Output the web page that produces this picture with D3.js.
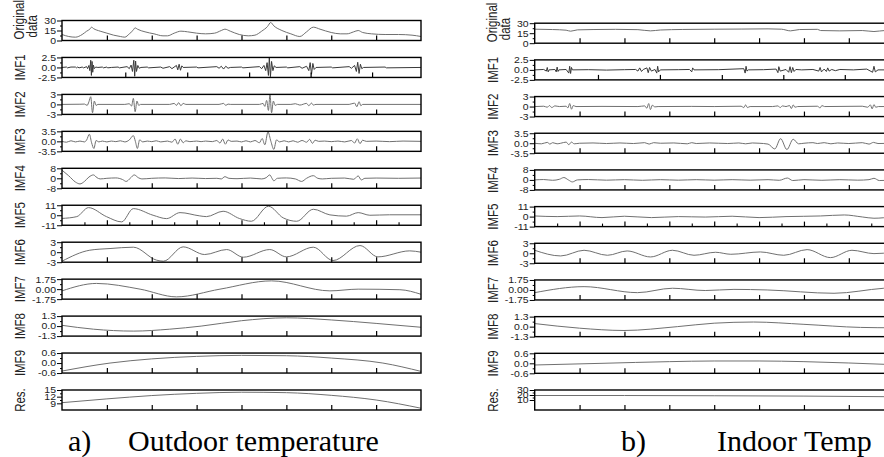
<!DOCTYPE html>
<html><head><meta charset="utf-8">
<script src="https://cdn.jsdelivr.net/npm/d3@7"></script>
<style>body{margin:0;background:#fff;} svg{display:block;}</style>
</head><body><svg id="c" width="884" height="457"></svg>
<script>
// ---------- labels / ticks ----------
const panelTitles = ["Original data","IMF1","IMF2","IMF3","IMF4","IMF5","IMF6","IMF7","IMF8","IMF9","Res."];
const outdoorDomains = [[0,30],[-2.5,2.5],[-3,3],[-3.5,3.5],[-8,8],[-11,11],[-3,3],[-1.75,1.75],[-1.3,1.3],[-0.6,0.6],[6,15]];
const indoorDomains  = [[0,30],[-2.5,2.5],[-3,3],[-3.5,3.5],[-8,8],[-11,11],[-3,3],[-1.75,1.75],[-1.3,1.3],[-0.6,0.6],[-10,30]];
const outdoorTickLabels = [["30","15","0"],["2.5","0.0","-2.5"],["3","0","-3"],["3.5","0.0","-3.5"],["8","0","-8"],["11","0","-11"],["3","0","-3"],["1.75","0.00","-1.75"],["1.3","0.0","-1.3"],["0.6","0.0","-0.6"],["15","12","9"]];
const indoorTickLabels  = [["30","15","0"],["2.5","0.0","-2.5"],["3","0","-3"],["3.5","0.0","-3.5"],["8","0","-8"],["11","0","-11"],["3","0","-3"],["1.75","0.00","-1.75"],["1.3","0.0","-1.3"],["0.6","0.0","-0.6"],["30","20","10"]];
const xTicksMain = [1,2,3,4,5,6,7];
const xTicksIMF1 = [1.41,2.79,4.17,5.54,6.91];
const xTicksIMF5Minor = [0.5,1.5,2.5,3.5,4.5,5.5,6.5,7.5];
const captions = [["a)","Outdoor temperature"],["b)","Indoor Temp"]];

// ---------- outdoor series [t, value] ----------
const outOriginal = [[0,9],[0.15,6],[0.3,5],[0.45,9],[0.55,14],[0.62,17],[0.66,20],[0.7,18],[0.85,14],[1.0,11],[1.15,8],[1.3,6],[1.4,5],[1.5,10],[1.58,15],[1.63,19],[1.68,17],[1.85,13],[2.05,10],[2.25,7],[2.35,7],[2.5,11],[2.65,14],[2.8,13],[3.0,11],[3.2,10],[3.4,11],[3.55,15],[3.63,17],[3.75,14],[3.95,9],[4.15,7],[4.3,8],[4.45,14],[4.58,21],[4.65,27],[4.72,22],[4.9,15],[5.1,10],[5.3,6],[5.45,13],[5.6,20],[5.75,17],[6.0,12],[6.2,10],[6.35,10],[6.5,13],[6.6,15],[6.7,12],[6.9,10],[7.2,9],[7.5,9],[7.8,8],[8.0,6]];
const outIMF1 = [[0,0],[0.1,0.1],[0.12,-0.1],[0.2,0.1],[0.3,0.1],[0.32,-0.1],[0.35,0.1],[0.38,-0.1],[0.45,0.1],[0.48,-0.1],[0.55,0.2],[0.57,-0.3],[0.6,0.5],[0.62,-0.8],[0.64,1.8],[0.655,-2.0],[0.67,1.5],[0.685,-1.2],[0.7,0.6],[0.72,-0.3],[0.75,0.1],[0.8,0],[0.9,0.1],[0.92,-0.1],[1.0,0.1],[1.02,-0.1],[1.1,0],[1.25,0.1],[1.28,-0.1],[1.45,0.2],[1.5,-0.3],[1.54,0.6],[1.57,-1.0],[1.6,1.8],[1.62,-2.2],[1.64,1.6],[1.66,-1.0],[1.69,0.5],[1.72,-0.2],[1.76,0],[1.9,0.1],[1.93,-0.1],[2.2,0.1],[2.25,-0.2],[2.4,0.2],[2.45,-0.3],[2.55,0.5],[2.58,-0.6],[2.61,0.8],[2.64,-0.7],[2.67,0.4],[2.7,0],[3.0,0.1],[3.03,-0.1],[3.45,0.2],[3.5,-0.2],[3.55,0.3],[3.6,-0.4],[3.65,0.3],[3.7,-0.2],[3.75,0],[4.0,0.1],[4.03,-0.1],[4.4,0.2],[4.45,-0.3],[4.5,0.5],[4.54,-0.8],[4.57,1.2],[4.6,-2.0],[4.62,2.5],[4.645,-2.3],[4.67,1.5],[4.7,-0.8],[4.73,0.4],[4.77,0],[5.0,0.1],[5.03,-0.1],[5.3,0.2],[5.35,-0.2],[5.45,0.3],[5.5,-0.8],[5.53,1.2],[5.56,-1.7],[5.59,1.0],[5.62,-0.5],[5.66,0],[6.0,0.1],[6.03,-0.1],[6.4,0.2],[6.45,-0.2],[6.52,0.5],[6.56,-1.0],[6.59,1.3],[6.62,-1.5],[6.65,0.8],[6.68,-0.3],[6.72,0],[7.2,0.1],[7.23,-0.1],[8,0]];
const outIMF2 = [[0,0],[0.4,0.05],[0.5,0.1],[0.56,-0.3],[0.6,0.8],[0.64,2.3],[0.68,-2.5],[0.72,1.0],[0.76,-0.3],[0.8,0],[1.4,0],[1.5,0.2],[1.55,-0.5],[1.59,1.8],[1.63,-2.2],[1.67,1.0],[1.71,-0.3],[1.75,0],[2.4,0],[2.5,0.3],[2.55,-0.3],[2.6,0.5],[2.65,-0.4],[2.7,0.3],[2.76,0],[3.5,0],[3.6,0.3],[3.65,-0.3],[3.7,0.1],[3.75,0],[4.4,0],[4.48,0.3],[4.52,-0.6],[4.56,1.2],[4.6,-1.8],[4.635,3.0],[4.67,-2.5],[4.71,1.0],[4.75,-0.3],[4.8,0],[5.1,0],[5.2,0.2],[5.3,-0.2],[5.45,0.3],[5.5,-0.4],[5.56,0.4],[5.6,-0.2],[5.66,0],[6.4,0],[6.52,0.4],[6.57,-0.7],[6.62,0.8],[6.66,-0.4],[6.7,0],[8,0]];
const outIMF3 = [[0,0],[0.1,-0.3],[0.2,0.2],[0.3,-0.2],[0.4,0.1],[0.5,-0.2],[0.55,0.5],[0.61,2.5],[0.66,-0.5],[0.71,-2.5],[0.76,0.3],[0.82,-0.2],[0.9,0.1],[1.0,-0.2],[1.1,0.1],[1.2,-0.1],[1.3,0.2],[1.4,-0.2],[1.5,0.5],[1.59,2.0],[1.635,0],[1.68,-2.5],[1.73,0.5],[1.8,-0.2],[1.9,0.1],[2.0,-0.1],[2.1,0.2],[2.2,-0.2],[2.35,0.1],[2.45,-0.3],[2.52,0.8],[2.58,-1.0],[2.64,0.8],[2.7,-0.5],[2.76,0.2],[2.85,-0.1],[3.0,0.1],[3.1,-0.1],[3.2,0.1],[3.35,-0.1],[3.45,0.3],[3.52,-0.6],[3.58,0.8],[3.64,-1.0],[3.7,0.5],[3.77,0],[3.9,0.1],[4.0,-0.2],[4.1,0.2],[4.2,-0.2],[4.3,0.3],[4.4,-0.5],[4.46,1.0],[4.52,-1.2],[4.59,3.3],[4.655,0],[4.72,-2.8],[4.78,0.5],[4.85,-0.2],[4.95,0.2],[5.05,-0.2],[5.15,0.2],[5.25,-0.3],[5.35,0.3],[5.45,-0.3],[5.52,0.7],[5.58,-0.7],[5.64,0.4],[5.72,0],[5.85,0.1],[6.0,-0.1],[6.15,0.1],[6.3,-0.2],[6.45,0.3],[6.52,-0.6],[6.58,0.9],[6.64,-0.8],[6.7,0.4],[6.78,0],[7.0,0.1],[7.3,-0.1],[7.6,0.1],[8,0]];
const outIMF4 = [[0,6.5],[0.15,2],[0.3,-3],[0.4,-4.5],[0.5,-2.5],[0.6,1],[0.7,2.7],[0.78,0.5],[0.85,-0.5],[1.0,0],[1.2,0.3],[1.35,-1],[1.43,-2.5],[1.52,0],[1.61,2.7],[1.7,0.5],[1.78,-0.5],[2.0,0],[2.3,0.3],[2.6,-0.2],[2.9,0.2],[3.2,-0.2],[3.45,0],[3.55,-0.5],[3.63,1.3],[3.72,0],[3.9,-0.3],[4.2,0.2],[4.45,-0.5],[4.55,0.5],[4.63,2.7],[4.68,0],[4.72,-2],[4.8,0],[5.0,0.3],[5.2,-0.5],[5.34,-2.5],[5.45,0],[5.6,2.1],[5.7,0],[5.8,-0.5],[6.0,0],[6.3,0.2],[6.5,-0.8],[6.6,1.9],[6.67,-1.3],[6.75,0],[7.0,0.2],[7.5,0],[8,0.2]];
const outIMF5 = [[0,-3.5],[0.33,-1.5],[0.59,8.4],[0.99,-1.5],[1.33,-7.3],[1.59,7.3],[2.03,0],[2.33,-3.7],[2.63,2.9],[3.07,-0.7],[3.22,-1.5],[3.59,4.4],[3.96,-3.7],[4.22,-6.6],[4.6,9.9],[4.93,-2.9],[5.23,-6.6],[5.6,6.6],[5.97,0.4],[6.34,-1],[6.6,2.9],[6.86,0],[7.3,0.5],[8,0.5]];
const outIMF6 = [[0,-2.7],[0.62,0.6],[1.07,1.1],[1.59,1.5],[2.11,-2.4],[2.26,-2.7],[2.7,1.6],[3.18,-0.7],[3.67,0.8],[4.04,-1.5],[4.63,0.8],[5.0,-1.4],[5.6,1.5],[6.04,-2.5],[6.64,2.0],[7.04,-1.4],[7.75,0.4],[8,0]];
const outIMF7 = [[0,-0.3],[0.77,1.0],[1.74,0],[2.55,-1.35],[3.52,0],[4.67,1.45],[5.97,-0.3],[6.6,0],[7.53,-0.1],[8,-0.9]];
const outIMF8 = [[0,0.1],[0.7,-0.4],[1.6,-0.65],[2.4,-0.4],[3.1,0],[4.0,0.7],[5.0,1.08],[6.0,0.8],[7.0,0.35],[8,-0.15]];
const outIMF9 = [[0,-0.48],[1.07,0],[2.0,0.25],[3.0,0.4],[4.0,0.46],[5.0,0.44],[6.0,0.3],[7.15,0],[8,-0.5]];
const outRes  = [[0,9.3],[1,11],[2,12.5],[3,13.5],[4,14],[5,13.8],[6,12.6],[7,10.5],[8,6.8]];

// ---------- indoor series [t, value] ----------
const inOriginal = [[0,21],[0.4,20.5],[0.7,19.5],[0.8,18],[0.95,20],[1.3,20.5],[1.8,20.8],[2.3,20.3],[2.58,18.5],[2.8,19.8],[3.3,20.6],[4.0,21],[4.6,21.2],[5.2,21.5],[5.5,21],[5.7,18.5],[5.9,20.5],[6.3,20.8],[6.37,19],[6.8,18.5],[7.3,19],[7.56,17.5],[7.8,19],[8,19]];
const inIMF1 = [[0,0],[0.2,0.1],[0.26,-0.3],[0.28,0.6],[0.3,-0.5],[0.32,0],[0.45,0.1],[0.48,-0.5],[0.5,0.7],[0.52,-0.4],[0.54,0],[0.7,0.1],[0.76,-0.8],[0.78,0.9],[0.8,-0.9],[0.82,0.6],[0.84,0],[1.2,0.05],[1.6,-0.05],[2.0,0.05],[2.25,0.1],[2.3,-0.3],[2.34,0.5],[2.38,-0.4],[2.42,0.1],[2.5,0.5],[2.53,-0.7],[2.56,0.6],[2.6,-0.3],[2.68,0.1],[2.72,-0.8],[2.74,0.9],[2.76,-0.5],[2.8,0],[3.2,0.05],[3.45,0.1],[3.5,-0.5],[3.52,0.5],[3.55,0],[4.1,0.05],[4.66,0.3],[4.69,-0.8],[4.71,0.9],[4.73,-0.3],[4.76,0],[5.1,0.05],[5.38,0.2],[5.42,-0.7],[5.44,0.8],[5.47,-0.3],[5.6,0.1],[5.66,-0.6],[5.69,0.8],[5.72,-0.7],[5.75,0.6],[5.78,-0.4],[5.82,0.1],[5.95,0],[6.2,0.1],[6.33,-0.3],[6.36,0.6],[6.39,-0.5],[6.45,0.2],[6.5,-0.4],[6.53,0.5],[6.56,-0.3],[6.62,0.1],[6.7,-0.2],[6.8,0.1],[7.1,0],[7.4,0.2],[7.53,-0.6],[7.56,0.9],[7.59,-0.5],[7.65,0],[8,0]];
const inIMF2 = [[0,0],[0.2,0.1],[0.28,-0.2],[0.33,0.3],[0.38,-0.3],[0.45,0.2],[0.55,0],[0.7,0.1],[0.74,-0.4],[0.78,0.9],[0.82,-0.8],[0.86,0.3],[0.92,0],[1.5,0.05],[2.3,0],[2.45,0.2],[2.5,-0.5],[2.54,0.9],[2.58,-0.9],[2.62,0.4],[2.68,-0.1],[2.75,0],[3.5,0.05],[4.0,0],[4.6,0.1],[4.66,-0.3],[4.7,0.5],[4.74,-0.3],[4.8,0],[5.3,0],[5.42,0.2],[5.47,-0.3],[5.52,0.2],[5.6,0],[5.68,0.3],[5.72,-0.6],[5.76,0.5],[5.8,-0.2],[5.86,0],[6.3,0.1],[6.36,-0.4],[6.4,0.3],[6.46,0],[7.3,0.1],[7.42,-0.2],[7.48,0.5],[7.52,-0.7],[7.56,0.6],[7.6,-0.2],[7.66,0],[8,0]];
const inIMF3 = [[0,0],[0.15,-0.2],[0.28,0.3],[0.34,-0.3],[0.4,0.2],[0.5,-0.2],[0.58,0],[0.7,0.4],[0.76,-0.5],[0.82,0.4],[0.88,-0.2],[1.0,0],[1.3,0.1],[1.6,-0.1],[1.9,0.1],[2.2,-0.1],[2.45,0.2],[2.55,-0.3],[2.65,0.2],[2.8,0],[3.1,0.1],[3.4,-0.2],[3.5,0.2],[3.6,-0.1],[3.9,0.1],[4.3,-0.1],[4.55,0.1],[4.7,-0.2],[4.85,0.1],[5.0,0],[5.2,-0.3],[5.35,-2.0],[5.48,1.6],[5.62,-2.2],[5.76,1.4],[5.88,-0.2],[6.0,0],[6.2,0.2],[6.3,-0.1],[6.45,0.2],[6.6,-0.2],[6.75,0.1],[7.0,-0.1],[7.3,0.2],[7.45,-0.3],[7.55,0.3],[7.65,-0.1],[8,0]];
const inIMF4 = [[0,0],[0.2,0.3],[0.4,-0.3],[0.55,0.5],[0.65,1.9],[0.75,0],[0.84,-1.6],[0.95,0],[1.2,0.3],[1.6,-0.2],[2.0,0.2],[2.4,-0.3],[2.8,0.2],[3.2,-0.2],[3.6,0.2],[4.0,-0.2],[4.4,0.2],[4.8,-0.2],[5.2,0.2],[5.45,-0.3],[5.63,1.5],[5.75,-0.5],[6.0,0.2],[6.4,-0.3],[6.8,0.2],[7.2,-0.2],[7.45,0.2],[7.56,1.3],[7.68,-0.5],[8,0]];
const inIMF5 = [[0,0.7],[0.5,0],[1.0,0.7],[1.5,-1.1],[2.0,0.4],[2.6,-1.1],[3.2,0],[3.8,-0.5],[4.4,0.4],[5.0,-1.1],[5.6,0],[6.37,0.7],[6.9,1.8],[7.3,-0.4],[7.56,-1.8],[8,0]];
const inIMF6 = [[0,0.9],[0.58,-0.8],[1.1,0.9],[1.62,-0.6],[2.06,0.7],[2.58,-1.1],[3.07,0.9],[3.55,-0.6],[4.03,0.3],[4.37,-0.3],[5.03,0.4],[5.55,-0.6],[6.07,1.1],[6.59,-1.3],[7.07,0.9],[7.56,-0.1],[8,0.3]];
const inIMF7 = [[0,-0.47],[1.1,0.58],[2.29,-0.47],[3.07,0.3],[3.8,-0.1],[4.44,0.1],[5.18,0],[6.67,-0.58],[7.78,0.3],[8,0.4]];
const inIMF8 = [[0,0.4],[1.0,-0.2],[1.99,-0.5],[3.18,0],[4.0,0.45],[4.88,0.6],[6.0,0.3],[7.26,-0.1],[8,-0.15]];
const inIMF9 = [[0,-0.1],[1.5,0],[3.0,0.1],[4.0,0.14],[5.0,0.14],[6.0,0.1],[7.0,0.02],[8,-0.08]];
const inRes  = [[0,19],[2,19],[4,18.5],[6,17.8],[8,16.5]];

const outdoorSeries = [outOriginal,outIMF1,outIMF2,outIMF3,outIMF4,outIMF5,outIMF6,outIMF7,outIMF8,outIMF9,outRes];
const indoorSeries  = [inOriginal,inIMF1,inIMF2,inIMF3,inIMF4,inIMF5,inIMF6,inIMF7,inIMF8,inIMF9,inRes];

// ---------- layout ----------
const svg = d3.select("#c");
const panelW = 359, panelH = 20;
const columns = [
  {x0:62,  top0:20.5, step:36.95, series:outdoorSeries, domains:outdoorDomains, labels:outdoorTickLabels, cap:captions[0], capX:[68,128]},
  {x0:534.7, top0:23.2, step:36.68, series:indoorSeries, domains:indoorDomains, labels:indoorTickLabels, cap:captions[1], capX:[621,717]}
];
const x = d3.scaleLinear().domain([0,8]).range([0,panelW]);
const sansFont = "'Liberation Sans', Arial, sans-serif";

columns.forEach(col => {
  panelTitles.forEach((title, i) => {
    const top = col.top0 + i*col.step;
    const g = svg.append("g").attr("transform", `translate(${col.x0},${top})`);
    const y = d3.scaleLinear().domain(col.domains[i]).range([panelH,0]);
    const labs = col.labels[i];
    const vals = labs.map(Number);

    // signal
    const line = d3.line().x(d=>x(d[0])).y(d=>y(d[1]))
      .curve(i===1 ? d3.curveLinear : d3.curveMonotoneX);
    g.append("path").datum(col.series[i]).attr("d", line)
      .attr("fill","none").attr("stroke", i===1 ? "#3a3a3a" : "#707070").attr("stroke-width", 1);

    // bottom ticks (pointing inward)
    const xt = i===1 ? xTicksIMF1 : xTicksMain;
    const xa = g.append("g").attr("transform",`translate(0,${panelH})`)
      .call(d3.axisBottom(x).tickValues(xt).tickSize(-5).tickFormat(""));
    xa.select(".domain").remove();
    xa.selectAll("line").attr("stroke","#000").attr("stroke-width",1.2);
    if (i===5) {
      const xm = g.append("g").attr("transform",`translate(0,${panelH})`)
        .call(d3.axisBottom(x).tickValues(xTicksIMF5Minor).tickSize(-3).tickFormat(""));
      xm.select(".domain").remove();
      xm.selectAll("line").attr("stroke","#000").attr("stroke-width",1.1);
    }

    // left axis: labelled ticks
    const ya = g.append("g").call(d3.axisLeft(y).tickValues(vals).tickSize(5).tickPadding(1)
      .tickFormat((d,k)=>labs[k]));
    ya.select(".domain").remove();
    ya.selectAll("line").attr("stroke","#000");
    ya.selectAll("text").attr("font-family", sansFont).attr("font-size", 10.5)
      .attr("fill","#222").attr("transform","scale(1,0.85)");
    // minor ticks midway
    const mids = d3.pairs(vals).map(p=>(p[0]+p[1])/2);
    const ym = g.append("g").call(d3.axisLeft(y).tickValues(mids).tickSize(2).tickFormat(""));
    ym.select(".domain").remove();
    ym.selectAll("line").attr("stroke","#000");

    // box
    g.append("rect").attr("x",0).attr("y",0).attr("width",panelW).attr("height",panelH)
      .attr("fill","none").attr("stroke","#000").attr("stroke-width",1.4);

    // rotated title
    if (i===0) {
      const words = title.split(" ");
      const tg = svg.append("g").attr("font-family", sansFont).attr("font-size",14).attr("fill","#222");
      tg.append("text").attr("transform",`translate(${col.x0-38},${top+panelH-1}) rotate(-90) scale(0.82,1)`)
        .attr("text-anchor","start").text(words[0]);
      tg.append("text").attr("transform",`translate(${col.x0-25},${top+panelH-3}) rotate(-90) scale(0.82,1)`)
        .attr("text-anchor","start").text(words[1]);
    } else {
      svg.append("text").attr("transform",`translate(${col.x0-37},${top+panelH/2}) rotate(-90) scale(0.82,1)`)
        .attr("text-anchor","middle").attr("font-family", sansFont).attr("font-size",14)
        .attr("fill","#222").text(title);
    }
  });

  // caption
  const cg = svg.append("g").attr("font-family","'Liberation Serif','Times New Roman',serif")
    .attr("font-size",30).attr("fill","#000");
  cg.append("text").attr("x",col.capX[0]).attr("y",451).text(col.cap[0]);
  cg.append("text").attr("x",col.capX[1]).attr("y",451).text(col.cap[1]);
});
</script></body></html>
